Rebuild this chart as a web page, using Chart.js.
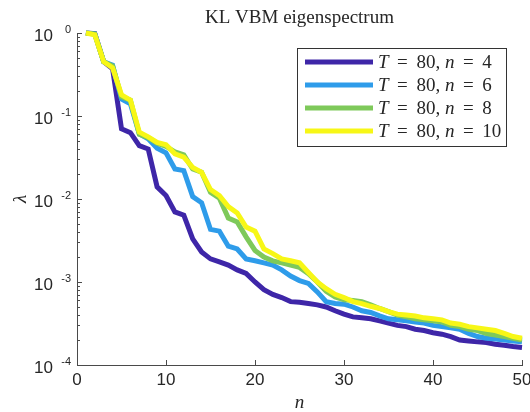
<!DOCTYPE html>
<html>
<head>
<meta charset="utf-8">
<script src="https://cdn.jsdelivr.net/npm/chart.js@4.4.1/dist/chart.umd.min.js"></script>
<style>
  html, body { margin: 0; padding: 0; background: #fff; }
</style>
</head>
<body>
<canvas id="eigChart" width="530" height="412"></canvas>
<script>
// mode index n
const modes = [1, 2, 3, 4, 5, 6, 7, 8, 9, 10, 11, 12, 13, 14, 15, 16, 17, 18, 19, 20,
  21, 22, 23, 24, 25, 26, 27, 28, 29, 30, 31, 32, 33, 34, 35, 36, 37, 38, 39, 40,
  41, 42, 43, 44, 45, 46, 47, 48, 49, 50];

// eigenvalues
const lambdaN4 = [1.0, 0.98, 0.45, 0.37, 0.07, 0.063, 0.044, 0.040, 0.014, 0.011,
  0.007, 0.0064, 0.0033, 0.0023, 0.0019, 0.00175, 0.0016, 0.0014, 0.00127, 0.001,
  0.00081, 0.00071, 0.00065, 0.00058, 0.00057, 0.00055, 0.00053, 0.0005, 0.00045, 0.00041,
  0.00038, 0.00037, 0.00036, 0.00034, 0.00032, 0.0003, 0.00029, 0.00027, 0.00026, 0.000245,
  0.000235, 0.00022, 0.0002, 0.000195, 0.00019, 0.000187, 0.000178, 0.000173, 0.000167, 0.000163];
const lambdaN6 = [1.0, 0.97, 0.45, 0.41, 0.16, 0.14, 0.061, 0.053, 0.041, 0.036,
  0.023, 0.022, 0.0107, 0.009, 0.0043, 0.0041, 0.0027, 0.0025, 0.0019, 0.0018,
  0.0017, 0.0016, 0.0014, 0.00118, 0.00104, 0.00096, 0.00076, 0.00058, 0.00055, 0.00054,
  0.0005, 0.00045, 0.00043, 0.00039, 0.00036, 0.00035, 0.00034, 0.00033, 0.00032, 0.0003,
  0.00029, 0.00028, 0.00027, 0.00024, 0.00022, 0.00021, 0.000205, 0.0002, 0.000195, 0.00019];
const lambdaN8 = [1.0, 0.97, 0.45, 0.40, 0.17, 0.155, 0.06, 0.055, 0.047, 0.043,
  0.037, 0.034, 0.023, 0.021, 0.012, 0.0102, 0.0059, 0.0053, 0.0035, 0.0024,
  0.002, 0.0018, 0.0017, 0.0016, 0.0015, 0.00126, 0.001, 0.00077, 0.00066, 0.00061,
  0.0006, 0.00058, 0.00053, 0.00048, 0.00044, 0.0004, 0.00038, 0.00036, 0.00035, 0.00034,
  0.00033, 0.0003, 0.00029, 0.00027, 0.00026, 0.00024, 0.00023, 0.00022, 0.00021, 0.0002];
const lambdaN10 = [1.0, 0.95, 0.45, 0.38, 0.18, 0.155, 0.064, 0.056, 0.048, 0.045,
  0.035, 0.032, 0.024, 0.021, 0.013, 0.011, 0.0081, 0.0068, 0.0046, 0.0041,
  0.0025, 0.0022, 0.0019, 0.0018, 0.0017, 0.0013, 0.001, 0.00083, 0.00071, 0.00065,
  0.00058, 0.00055, 0.00051, 0.00048, 0.00044, 0.00041, 0.0004, 0.00039, 0.00037, 0.00036,
  0.00035, 0.00032, 0.00031, 0.00029, 0.00028, 0.00027, 0.00026, 0.00024, 0.00022, 0.00021];

const seriesOrders = [4, 6, 8, 10];
const seriesColors = ['#3e26a8', '#2e9cea', '#7ec95a', '#f7f716'];
const xTicks = [0, 10, 20, 30, 40, 50];
const yExponents = [0, -1, -2, -3, -4];

const axisColor = '#4a4a4a';
const serif = '"Liberation Serif", "DejaVu Serif", serif';
const sans = '"Liberation Sans", Arial, sans-serif';
const thin = '\u2009';

function toPoints(vals) {
  return modes.map((n, i) => ({ x: n, y: vals[i] }));
}

// LaTeX-ish label: italic symbols, upright rest
function drawMath(ctx, parts, x, y, size) {
  let cx = x;
  parts.forEach(p => {
    ctx.font = (p.it ? 'italic ' : '') + size + 'px ' + serif;
    ctx.fillText(p.t, cx, y);
    cx += ctx.measureText(p.t).width;
  });
}

const decorPlugin = {
  id: 'decor',
  afterDraw(chart) {
    const { ctx, chartArea: a, scales: { x, y } } = chart;
    ctx.save();
    ctx.strokeStyle = axisColor;
    ctx.lineWidth = 1;

    // inward ticks on x
    xTicks.forEach(v => {
      const px = Math.round(x.getPixelForValue(v)) + 0.5;
      ctx.beginPath(); ctx.moveTo(px, a.bottom); ctx.lineTo(px, a.bottom - 5); ctx.stroke();
    });
    // inward major + minor ticks on log y
    yExponents.forEach(e => {
      const base = Math.pow(10, e);
      const py = Math.round(y.getPixelForValue(base)) + 0.5;
      ctx.beginPath(); ctx.moveTo(a.left, py); ctx.lineTo(a.left + 5, py); ctx.stroke();
      if (e < 0) {
        for (let m = 2; m <= 9; m++) {
          const my = Math.round(y.getPixelForValue(m * base)) + 0.5;
          ctx.beginPath(); ctx.moveTo(a.left, my); ctx.lineTo(a.left + 3, my); ctx.stroke();
        }
      }
    });

    // tick labels
    ctx.fillStyle = '#262626';
    ctx.font = '17px ' + sans;
    ctx.textAlign = 'center';
    ctx.textBaseline = 'middle';
    xTicks.forEach(v => ctx.fillText(String(v), x.getPixelForValue(v), a.bottom + 15));

    yExponents.forEach(e => {
      const py = y.getPixelForValue(Math.pow(10, e));
      ctx.textAlign = 'right';
      ctx.font = '17px ' + sans;
      ctx.fillText('10', 53, py + 3);
      ctx.font = '11px ' + sans;
      ctx.fillText(e === 0 ? '0' : '-' + (-e), 71, py - 3);
    });

    // title
    ctx.textAlign = 'center';
    ctx.textBaseline = 'alphabetic';
    ctx.font = '19px ' + serif;
    ctx.fillText('KL VBM eigenspectrum', (a.left + a.right) / 2, 23);

    // axis labels
    ctx.font = 'italic 19px ' + serif;
    ctx.fillText('n', (a.left + a.right) / 2, 408);
    ctx.save();
    ctx.translate(26, (a.top + a.bottom) / 2);
    ctx.rotate(-Math.PI / 2);
    ctx.fillText('\u03BB', 0, 0);
    ctx.restore();

    // legend box
    const lx = 297, ly = 48, lw = 209, lh = 98;
    ctx.fillStyle = '#fff';
    ctx.fillRect(lx, ly, lw, lh);
    ctx.strokeStyle = '#333';
    ctx.strokeRect(lx + 0.5, ly + 0.5, lw, lh);
    ctx.textAlign = 'left';
    ctx.textBaseline = 'middle';
    seriesOrders.forEach((ord, i) => {
      const ry = 62 + i * 23;
      ctx.strokeStyle = seriesColors[i];
      ctx.lineWidth = 5;
      ctx.beginPath(); ctx.moveTo(305, ry); ctx.lineTo(373, ry); ctx.stroke();
      ctx.fillStyle = '#262626';
      drawMath(ctx, [
        { t: 'T', it: true }, { t: ' ' + thin + '=' + thin + ' 80, ', it: false },
        { t: 'n', it: true }, { t: ' ' + thin + '=' + thin + ' ' + ord, it: false }
      ], 378, ry + 1, 19);
    });
    ctx.restore();
  }
};

const eigChart = new Chart(document.getElementById('eigChart'), {
  type: 'line',
  data: {
    datasets: seriesOrders.map((ord, i) => ({
      label: 'T = 80, n = ' + ord,
      data: toPoints([lambdaN4, lambdaN6, lambdaN8, lambdaN10][i]),
      borderColor: seriesColors[i],
      backgroundColor: seriesColors[i],
      borderWidth: 5,
      pointRadius: 0,
      tension: 0,
      clip: false,
      order: 3 - i
    }))
  },
  options: {
    responsive: false,
    animation: false,
    layout: { padding: { top: 33, right: 8, left: 0, bottom: 0 } },
    plugins: { legend: { display: false }, title: { display: false }, tooltip: { enabled: false } },
    scales: {
      x: {
        type: 'linear', min: 0, max: 50,
        grid: { display: false },
        border: { display: true, color: axisColor, width: 1 },
        ticks: { display: false },
        afterFit(s) { s.height = 47; }
      },
      y: {
        type: 'logarithmic', min: 1e-4, max: 1,
        grid: { display: false },
        border: { display: true, color: axisColor, width: 1 },
        ticks: { display: false },
        afterFit(s) { s.width = 77; }
      }
    }
  },
  plugins: [decorPlugin]
});
</script>
</body>
</html>
